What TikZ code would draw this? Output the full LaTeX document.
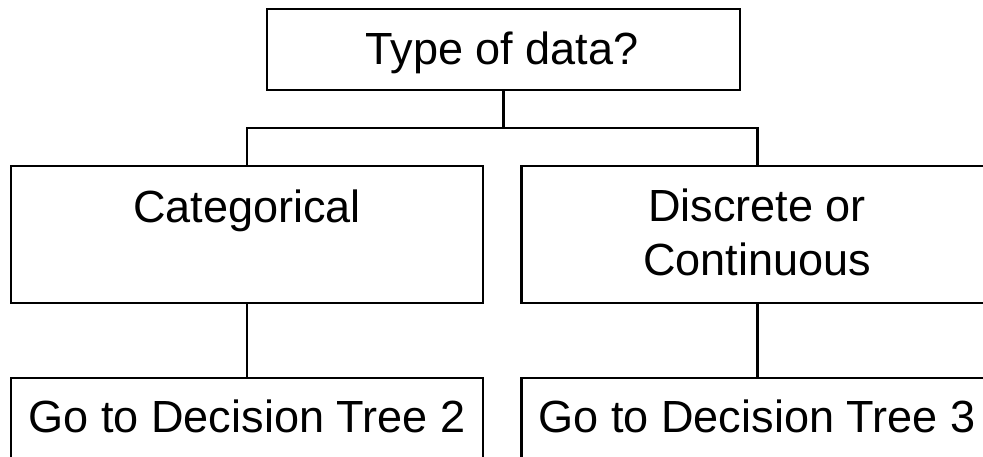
\documentclass[tikz,border=0pt]{standalone}
\usepackage{fontspec}
\setmainfont{Liberation Sans}
\begin{document}
\begin{tikzpicture}[x=0.75pt,y=-0.75pt,
  box/.style={draw=black,line width=2.1pt,rectangle,inner sep=0pt,fill=white},
  link/.style={draw=black,line width=1.8pt},
  lbl/.style={anchor=base,inner sep=0pt,font=\fontsize{33.8}{40.5}\selectfont}]
\useasboundingbox (0,0) rectangle (983,457);
\clip (0,0) rectangle (983,457);
% boxes
\node[box,minimum width=473*0.75pt,minimum height=81*0.75pt] (top) at (503.5,49.5) {};
\node[box,minimum width=472*0.75pt,minimum height=137*0.75pt] (cat) at (247,234.5) {};
\node[box,minimum width=472*0.75pt,minimum height=137*0.75pt] (dis) at (757.5,234.5) {};
\node[box,minimum width=472*0.75pt,minimum height=120*0.75pt] (go2) at (247,438) {};
\node[box,minimum width=472*0.75pt,minimum height=120*0.75pt] (go3) at (757.5,438) {};
% labels
\node[lbl] (ttop) at (502,64) {Type of data?};
\node[lbl] (tcat) at (247,222) {Categorical};
\node[lbl] (tdis1) at (757,221) {Discrete or};
\node[lbl] (tdis2) at (757,275) {Continuous};
\node[lbl] (tgo2) at (247,432) {Go to Decision Tree 2};
\node[lbl] (tgo3) at (757,432) {Go to Decision Tree 3};
% connectors
\coordinate (bus) at (503.5,128);
\draw[link] (top.south) -- (bus);
\draw[link] (cat.north) |- (bus) -| (dis.north);
\draw[link] (cat.south) -- (go2.north);
\draw[link] (dis.south) -- (go3.north);
\end{tikzpicture}
\end{document}
